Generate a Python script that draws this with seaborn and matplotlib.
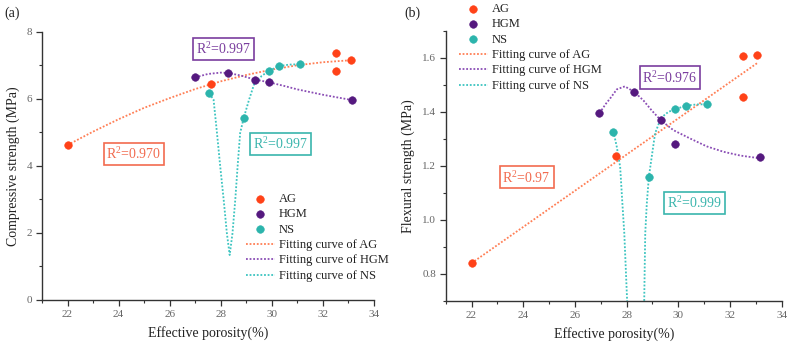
import numpy as np
import pandas as pd
import matplotlib
matplotlib.use("Agg")
import matplotlib.pyplot as plt
import seaborn as sns

# ---------------- data ----------------
# Panel (a): compressive strength
a_ag_x = [22.0, 27.6, 32.5, 32.5, 33.1]
a_ag_y = [4.62, 6.44, 7.38, 6.83, 7.15]
a_hgm_x = [27.0, 28.3, 29.35, 29.9, 33.15]
a_hgm_y = [6.64, 6.77, 6.57, 6.51, 5.96]
a_ns_x = [27.55, 28.9, 29.9, 30.3, 31.1]
a_ns_y = [6.16, 5.43, 6.84, 6.98, 7.03]

a_agfit_x = [22, 23, 24, 25, 26, 27, 28, 29, 30, 31, 32, 33.1]
a_agfit_y = [4.62, 5.02, 5.39, 5.73, 6.02, 6.29, 6.52, 6.71, 6.87, 7.00, 7.09, 7.15]
a_hgmfit_x = [27.0, 27.5, 28.0, 28.3, 28.8, 29.3, 29.9, 30.5, 31.0, 31.5, 32.0, 32.5, 33.15]
a_hgmfit_y = [6.64, 6.74, 6.78, 6.77, 6.69, 6.58, 6.49, 6.38, 6.28, 6.20, 6.12, 6.05, 5.96]
a_nsfit_x = [27.55, 27.72, 27.85, 27.98, 28.12, 28.24, 28.35, 28.46, 28.57, 28.66, 28.76, 28.9,
             29.1, 29.3, 29.6, 29.9, 30.3, 30.7, 31.1]
a_nsfit_y = [6.16, 5.97, 5.0, 3.98, 2.95, 1.99, 1.34, 1.99, 3.0, 3.98, 4.98, 5.43,
             5.95, 6.42, 6.68, 6.84, 6.98, 7.02, 7.03]

# Panel (b): flexural strength
b_ag_x = [22.0, 27.58, 32.5, 32.5, 33.05]
b_ag_y = [0.839, 1.237, 1.605, 1.456, 1.611]
b_hgm_x = [26.95, 28.29, 29.33, 29.88, 33.15]
b_hgm_y = [1.395, 1.474, 1.368, 1.281, 1.232]
b_ns_x = [27.49, 28.86, 29.88, 30.29, 31.1]
b_ns_y = [1.327, 1.159, 1.409, 1.423, 1.428]

b_agfit_x = [22.0, 33.05]
b_agfit_y = [0.840, 1.580]
b_hgmfit_x = [26.95, 27.2, 27.36, 27.62, 27.93, 28.29, 28.65, 28.97, 29.33, 29.81, 30.46,
              31.1, 31.75, 32.4, 33.15]
b_hgmfit_y = [1.395, 1.430, 1.449, 1.483, 1.494, 1.474, 1.442, 1.405, 1.368, 1.332, 1.301,
              1.272, 1.252, 1.238, 1.228]
b_nsfit_x = [27.49, 27.62, 27.75, 27.83, 27.91, 28.02, 28.35, 28.68, 28.72, 28.78, 28.86,
             29.1, 29.3, 29.36, 29.62, 29.88, 30.29, 30.7, 31.1]
b_nsfit_y = [1.327, 1.27, 1.196, 1.07, 0.95, 0.70, 0.45, 0.70, 0.95, 1.06, 1.159,
             1.32, 1.37, 1.38, 1.40, 1.409, 1.423, 1.427, 1.428]

series_names = ["AG", "HGM", "NS"]
r2_a = ["0.997", "0.970", "0.997"]   # HGM, AG, NS
r2_b = ["0.976", "0.97", "0.999"]    # HGM, AG, NS

# ---------------- style ----------------
sns.set_theme(style="ticks")
plt.rcParams["font.family"] = ["Liberation Serif", "DejaVu Serif"]
plt.rcParams["mathtext.fontset"] = "custom"
plt.rcParams["mathtext.rm"] = "Liberation Serif"

mk_col = {"AG": "#FF4218", "HGM": "#55197F", "NS": "#2CB4AC"}
ln_col = {"AG": "#FF7F55", "HGM": "#8A4DB5", "NS": "#3CC4C0"}
tx_col = {"AG": "#F26B4F", "HGM": "#7A3D9E", "NS": "#3AB5AD"}

fig = plt.figure(figsize=(7.95, 3.5), dpi=100)
axa = fig.add_axes([0.0528, 0.1429, 0.4176, 0.7665])
axb = fig.add_axes([0.5606, 0.1400, 0.4227, 0.7723])


def draw(ax, pts, fits):
    for name in series_names:
        x, y = pts[name]
        df = pd.DataFrame({"x": x, "y": y})
        sns.scatterplot(data=df, x="x", y="y", ax=ax, color=mk_col[name], s=30,
                        edgecolor=mk_col[name], linewidth=0.4, label=name, zorder=3)
    for name in series_names:
        x, y = fits[name]
        df = pd.DataFrame({"x": x, "y": y})
        sns.lineplot(data=df, x="x", y="y", ax=ax, color=ln_col[name], lw=1.3,
                     linestyle=(0, (1, 1)), sort=False, estimator=None,
                     label="Fitting curve of " + name, zorder=2)


draw(axa,
     {"AG": (a_ag_x, a_ag_y), "HGM": (a_hgm_x, a_hgm_y), "NS": (a_ns_x, a_ns_y)},
     {"AG": (a_agfit_x, a_agfit_y), "HGM": (a_hgmfit_x, a_hgmfit_y), "NS": (a_nsfit_x, a_nsfit_y)})
draw(axb,
     {"AG": (b_ag_x, b_ag_y), "HGM": (b_hgm_x, b_hgm_y), "NS": (b_ns_x, b_ns_y)},
     {"AG": (b_agfit_x, b_agfit_y), "HGM": (b_hgmfit_x, b_hgmfit_y), "NS": (b_nsfit_x, b_nsfit_y)})

for ax in (axa, axb):
    ax.set_xlim(21, 34)
    ax.set_xticks(np.arange(22, 35, 2))
    ax.set_xticks(np.arange(21, 35, 1), minor=True)
    ax.set_xlabel("Effective porosity(%)", fontsize=10, color="#222222", labelpad=5)
    for s in ("top", "right"):
        ax.spines[s].set_visible(False)
    for s in ("left", "bottom"):
        ax.spines[s].set_color("#333333")
        ax.spines[s].set_linewidth(1.0)
    ax.tick_params(which="major", length=4, width=0.9, labelsize=8, colors="#333333",
                   labelcolor="#666666", direction="out", pad=3)
    ax.tick_params(which="minor", length=2.5, width=0.8, colors="#333333", direction="out")

axa.set_ylim(0, 8)
axa.set_yticks([0, 2, 4, 6, 8])
axa.set_yticks([1, 3, 5, 7], minor=True)
axa.set_ylabel("Compressive strength (MPa)", fontsize=10, color="#222222", labelpad=5)

axb.set_ylim(0.7, 1.7)
axb.set_yticks([0.8, 1.0, 1.2, 1.4, 1.6])
axb.set_yticklabels(["0.8", "1.0", "1.2", "1.4", "1.6"])
axb.set_yticks([0.7, 0.9, 1.1, 1.3, 1.5, 1.7], minor=True)
axb.set_ylabel("Flexural strength (MPa)", fontsize=10, color="#222222", labelpad=5)


def r2box(ax, x, y, val, name):
    ax.text(x, y, r"R$^{2}$=" + val, fontsize=10, color=tx_col[name], ha="center", va="center",
            bbox=dict(boxstyle="square,pad=0.2", fc="white", ec=tx_col[name], lw=1.2), zorder=5)


r2box(axa, 28.1, 7.49, r2_a[0], "HGM")
r2box(axa, 24.6, 4.36, r2_a[1], "AG")
r2box(axa, 30.33, 4.66, r2_a[2], "NS")
r2box(axb, 29.68, 1.527, r2_b[0], "HGM")
r2box(axb, 24.13, 1.158, r2_b[1], "AG")
r2box(axb, 30.63, 1.062, r2_b[2], "NS")

for ax, anchor in ((axa, (246 / 795, 1 - 193 / 350)), (axb, (459 / 795, 1 - 3 / 350))):
    h, l = ax.get_legend_handles_labels()
    ax.legend(h, l, loc="upper left", bbox_to_anchor=anchor, bbox_transform=fig.transFigure,
              frameon=False, fontsize=9, handlelength=2.3, handletextpad=0.35,
              labelspacing=0.27, borderpad=0, borderaxespad=0, labelcolor="#222222")

fig.text(4 / 795, 1 - 13 / 350, "(a)", fontsize=10, va="center", ha="left", color="#222222")
fig.text(404 / 795, 1 - 13 / 350, "(b)", fontsize=10, va="center", ha="left", color="#222222")

fig.savefig("out.png", dpi=100)
